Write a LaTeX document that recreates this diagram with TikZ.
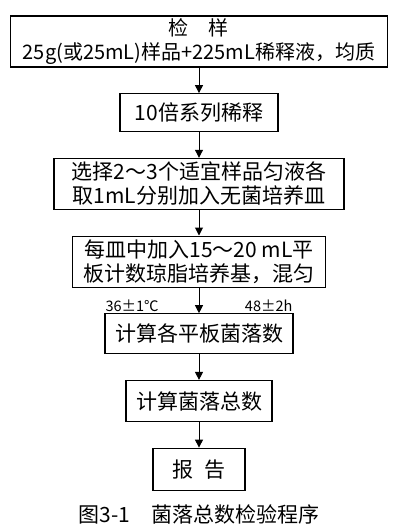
\documentclass[tikz,border=0pt]{standalone}
\usepackage{fontspec}
\setmainfont{Noto Sans CJK SC}
\usetikzlibrary{arrows.meta,positioning}
\tikzset{
  stepbox/.style={draw,line width=1.2pt,align=center,inner sep=0pt,
                  font=\fontsize{21}{24}\selectfont},
  ar/.style     ={-{Triangle[length=8pt,width=8pt]},line width=1pt},
  cond/.style   ={font=\fontsize{14.5}{16}\selectfont,inner sep=1pt},
  capt/.style   ={font=\fontsize{21}{24}\selectfont,inner sep=0pt},
}

\begin{document}
\begin{tikzpicture}[node distance=25.5pt]
\useasboundingbox (0,0) rectangle (400pt,-528pt);
\node[stepbox,minimum width=377pt,minimum height=51pt,
      font=\fontsize{20}{24}\selectfont] (T1) at (199pt,-41.5pt)
  {检\quad 样\\25g(或25mL)样品+225mL稀释液，均质};
\node[stepbox,minimum width=158pt,minimum height=38pt,below=of T1] (T2) {10倍系列稀释};
\node[stepbox,minimum width=290pt,minimum height=51pt,below=of T2] (T3)
  {选择2～3个适宜样品匀液各\\取1mL分别加入无菌培养皿};
\node[stepbox,minimum width=253pt,minimum height=51pt,below=of T3] (T4)
  {每皿中加入15～20 mL平\\板计数琼脂培养基，混匀};
\node[stepbox,minimum width=188pt,minimum height=40pt,below=of T4] (T5) {计算各平板菌落数};
\node[stepbox,minimum width=146pt,minimum height=41pt,below=of T5] (T6) {计算菌落总数};
\node[stepbox,minimum width=92pt,minimum height=42pt,below=of T6] (T7) {报\enspace 告};
% incubation conditions
\node[cond,anchor=south west] (temp) at (T5.north west) {36±1℃};
\node[cond,anchor=south east] (time) at (T5.north east) {48±2h};
\node[capt,below=14pt of T7] (cap) {图3-1\quad 菌落总数检验程序};
\draw[ar] (T1)--(T2); \draw[ar] (T2)--(T3); \draw[ar] (T3)--(T4);
\draw[ar] (T4)--(T5); \draw[ar] (T5)--(T6); \draw[ar] (T6)--(T7);
\end{tikzpicture}
\end{document}
